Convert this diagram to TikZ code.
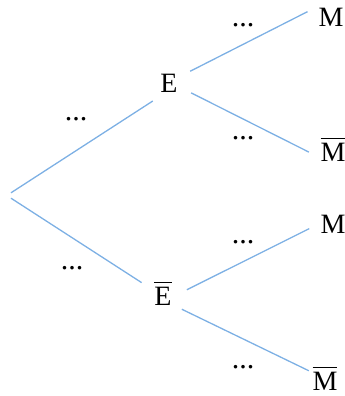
\documentclass[tikz,border=0pt]{standalone}
\usepackage{fontspec}
\setmainfont{Liberation Serif}
\definecolor{branchblue}{RGB}{125,176,228}
\newcommand{\barred}[1]{\vbox{\hrule height 1.3pt\kern 4pt\hbox{#1}}}
\begin{document}
\begin{tikzpicture}[x=1pt, y=-1pt]
	\tikzstyle{event}=[circle,inner sep=0pt,minimum size=48pt,font=\fontsize{28}{30}\selectfont]
	\tikzstyle{prob}=[inner sep=0pt,font=\fontsize{30}{32}\selectfont]
	\tikzstyle{branch}=[draw=branchblue,line width=1.3pt]
	\useasboundingbox (0,0) rectangle (345,396);
	\node[inner sep=0pt,minimum width=0pt,minimum height=5pt](root) at (11,195.5){};
	% first draw
	\node[event](E) at (169,83){E};
	\node[event](Ebar) at (163,294){\barred{E}};
	% second draw
	\node[event](EM) at (331,17.5){M};
	\node[event](EMbar) at (333,150){\barred{M}};
	\node[event](EbarM) at (333,224){M};
	\node[event,minimum size=36pt](EbarMbar) at (325,379){\barred{M}};
	\draw[branch] (root.north) -- (E.228);
	\draw[branch] (root.south) -- (Ebar.152);
	\draw[branch] (E.29) -- (EM.166);
	\draw[branch] (E.-24) -- (EMbar.185);
	\draw[branch] (Ebar.10) -- (EbarM.191);
	\draw[branch] (Ebar.-39) -- (EbarMbar.153);
	% unknown probabilities
	\node[prob](pE) at (76,119){...};
	\node[prob](pEbar) at (72,268){...};
	\node[prob](pEM) at (243,25){...};
	\node[prob](pEMbar) at (243,138){...};
	\node[prob](pEbarM) at (243,242.5){...};
	\node[prob](pEbarMbar) at (243,367.5){...};
\end{tikzpicture}
\end{document}
